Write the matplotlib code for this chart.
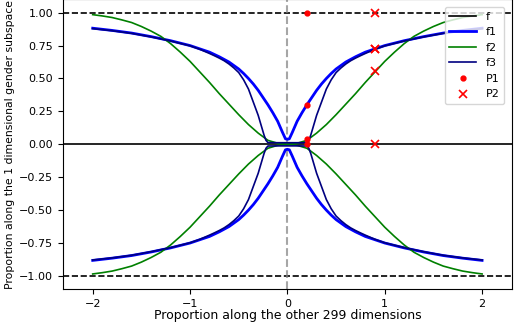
import matplotlib
matplotlib.use("Agg")
import matplotlib.pyplot as plt
import numpy as np

# values (upper branches, x >= 0; curves are even in x and mirrored in y)
x_f1 = [0.0, 0.02, 0.05, 0.1, 0.15, 0.2, 0.25, 0.3, 0.35, 0.4, 0.45, 0.5, 0.6, 0.7, 0.8, 0.9, 1.0, 1.2, 1.4, 1.6, 1.8, 2.0]
y_f1 = [0.038, 0.042, 0.09, 0.175, 0.24, 0.30, 0.355, 0.41, 0.458, 0.50, 0.538, 0.572, 0.625, 0.665, 0.70, 0.725, 0.75, 0.787, 0.818, 0.845, 0.865, 0.882]

x_f2 = [0.0, 0.1, 0.2, 0.3, 0.4, 0.5, 0.6, 0.7, 0.8, 0.9, 1.0, 1.1, 1.2, 1.3, 1.4, 1.5, 1.6, 1.7, 1.8, 1.9, 2.0]
y_f2 = [0.0, 0.008, 0.03, 0.085, 0.15, 0.225, 0.305, 0.385, 0.47, 0.55, 0.63, 0.70, 0.765, 0.82, 0.86, 0.895, 0.925, 0.945, 0.963, 0.975, 0.985]

x_f3 = [0.0, 0.1, 0.2, 0.22, 0.24, 0.26, 0.28, 0.3, 0.35, 0.4, 0.45, 0.5, 0.55, 0.6, 0.65, 0.7, 0.75, 0.8, 0.9, 1.0, 1.2, 1.4, 1.6, 1.8, 2.0]
y_f3 = [0.012, 0.012, 0.013, 0.03, 0.07, 0.12, 0.17, 0.22, 0.32, 0.42, 0.49, 0.545, 0.58, 0.61, 0.635, 0.655, 0.673, 0.69, 0.722, 0.748, 0.785, 0.816, 0.843, 0.863, 0.879]

p1_x = [0.2, 0.2, 0.2, 0.2]
p1_y = [1.0, 0.3, 0.042, 0.005]
p2_x = [0.9, 0.9, 0.9, 0.9, 0.9]
p2_y = [1.0, 0.725, 0.722, 0.555, 0.0]


def full(xs, ys):
    # mirror the x >= 0 half to the left
    xs = np.array(xs)
    ys = np.array(ys)
    return np.concatenate([-xs[::-1], xs[1:]]), np.concatenate([ys[::-1], ys[1:]])


plt.rcParams['font.size'] = 8
fig = plt.figure(figsize=(5.14, 3.24), dpi=100)
ax = fig.add_axes([63 / 514, 34.9 / 324, 449 / 514, 289.6 / 324])

ax.axhline(0, color='k', lw=1.2, label='f')
ax.axhline(1, color='k', ls='--', lw=1.2)
ax.axhline(-1, color='k', ls='--', lw=1.2)
ax.axvline(0, color='grey', ls='--', lw=1.5, alpha=0.7)

for xs, ys, col, lw, lab in [(x_f1, y_f1, 'blue', 2.0, 'f1'),
                              (x_f2, y_f2, 'green', 1.2, 'f2'),
                              (x_f3, y_f3, 'navy', 1.2, 'f3')]:
    fx, fy = full(xs, ys)
    ax.plot(fx, fy, color=col, lw=lw, label=lab)
    ax.plot(fx, -fy, color=col, lw=lw)

ax.plot(p1_x, p1_y, '.', color='red', ms=7, label='P1')
ax.plot(p2_x, p2_y, 'x', color='red', ms=6, mew=1.2, label='P2')

ax.set_xlim(-2.305, 2.307)
ax.set_ylim(-1.1, 1.1)
ax.set_xticks([-2, -1, 0, 1, 2])
ax.set_yticks([-1, -0.75, -0.5, -0.25, 0, 0.25, 0.5, 0.75, 1])
ax.tick_params(labelsize=8)
ax.set_xlabel('Proportion along the other 299 dimensions', fontsize=9, labelpad=0)
ax.set_ylabel('Proportion along the 1 dimensional gender subspace', fontsize=7.8, labelpad=3)
ax.legend(loc='upper right', fontsize=8, handlelength=2.4, handletextpad=0.9,
          borderaxespad=0.7)

fig.savefig('out.png', dpi=100)
